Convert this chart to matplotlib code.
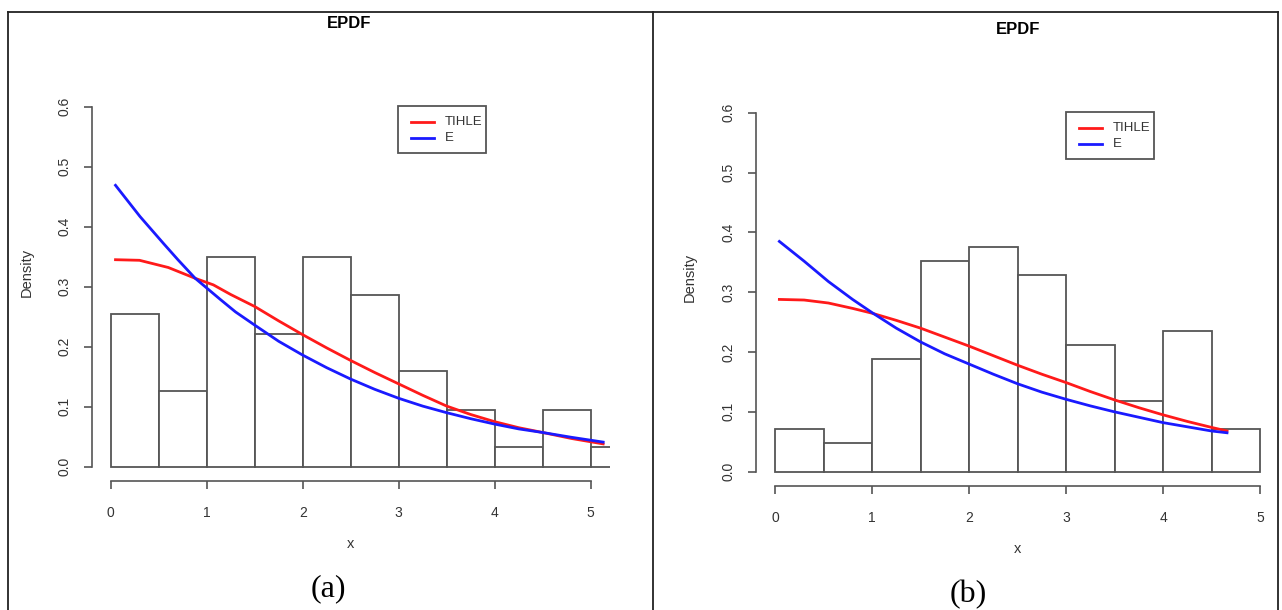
import matplotlib
matplotlib.use("Agg")
import matplotlib.pyplot as plt
from matplotlib.lines import Line2D
from matplotlib.patches import Rectangle

# ---------------- data ----------------
bin_edges = [0, 0.5, 1.0, 1.5, 2.0, 2.5, 3.0, 3.5, 4.0, 4.5, 5.0, 5.5]
dens_a = [0.254, 0.127, 0.349, 0.222, 0.349, 0.286, 0.159, 0.095, 0.032, 0.095, 0.032]

bin_edges_b = [0, 0.5, 1.0, 1.5, 2.0, 2.5, 3.0, 3.5, 4.0, 4.5, 5.0]
dens_b = [0.0706, 0.0471, 0.188, 0.353, 0.376, 0.329, 0.212, 0.118, 0.235, 0.0706]

tihle_x_a = [0.05, 0.3, 0.6, 0.88, 1.07, 1.25, 1.5, 1.75, 2.0, 2.25, 2.5, 2.75, 3.0,
             3.25, 3.5, 3.75, 4.0, 4.25, 4.5, 4.8, 5.13]
tihle_y_a = [0.345, 0.344, 0.332, 0.314, 0.303, 0.287, 0.267, 0.243, 0.220, 0.198, 0.177,
             0.157, 0.138, 0.119, 0.101, 0.087, 0.075, 0.065, 0.057, 0.047, 0.038]
e_x_a = [0.05, 0.305, 0.55, 0.7, 0.88, 1.14, 1.3, 1.5, 1.75, 2.0, 2.25, 2.5, 2.75, 3.0,
         3.25, 3.5, 3.75, 4.0, 4.25, 4.5, 4.8, 5.13]
e_y_a = [0.469, 0.417, 0.372, 0.345, 0.314, 0.279, 0.258, 0.236, 0.209, 0.186, 0.165,
         0.146, 0.129, 0.114, 0.101, 0.090, 0.080, 0.071, 0.063, 0.057, 0.049, 0.041]

tihle_x_b = [0.045, 0.3, 0.55, 0.8, 1.0, 1.25, 1.5, 1.75, 2.0, 2.25, 2.5, 2.75, 3.0,
             3.25, 3.5, 3.75, 4.0, 4.25, 4.5, 4.66]
tihle_y_b = [0.288, 0.287, 0.282, 0.273, 0.265, 0.253, 0.240, 0.225, 0.210, 0.194, 0.178,
             0.163, 0.149, 0.134, 0.120, 0.107, 0.095, 0.084, 0.074, 0.068]
e_x_b = [0.045, 0.3, 0.55, 0.8, 1.0, 1.25, 1.5, 1.75, 2.0, 2.25, 2.5, 2.75, 3.0,
         3.25, 3.5, 3.75, 4.0, 4.25, 4.5, 4.66]
e_y_b = [0.385, 0.352, 0.318, 0.288, 0.266, 0.240, 0.217, 0.197, 0.180, 0.163, 0.147,
         0.133, 0.121, 0.110, 0.100, 0.091, 0.082, 0.075, 0.068, 0.065]

xticks = [0, 1, 2, 3, 4, 5]
yticks = [0.0, 0.1, 0.2, 0.3, 0.4, 0.5, 0.6]
ytick_labels = ["0.0", "0.1", "0.2", "0.3", "0.4", "0.5", "0.6"]
legend_labels = ["TIHLE", "E"]
title = "EPDF"
captions = ["(a)", "(b)"]

# ---------------- figure ----------------
W, H = 1282, 610
plt.rcParams['font.family'] = ['Liberation Sans', 'DejaVu Sans']
fig = plt.figure(figsize=(W / 100, H / 100), dpi=100)

def fx(px):
    return px / W

def fy(py):
    return 1 - py / H

def make_axes(l, r, t, b):
    return fig.add_axes([fx(l), fy(b), fx(r) - fx(l), fy(t) - fy(b)])

tick_col = "#333333"
edge_col = "#555555"
red = "#ff1a1a"
blue = "#1a1aff"

def style(ax, box, ylab_px, ylab_py):
    l, r, t, b = box
    ax.set_xlim(-0.2, 5.2)
    ax.set_ylim(-0.024, 0.624)
    for s in ["top", "right"]:
        ax.spines[s].set_visible(False)
    ax.spines["left"].set_bounds(0, 0.6)
    ax.spines["bottom"].set_bounds(0, 5)
    for s in ["left", "bottom"]:
        ax.spines[s].set_color(edge_col)
        ax.spines[s].set_linewidth(1.2)
    ax.set_xticks(xticks)
    ax.set_yticks(yticks)
    ax.set_yticklabels(ytick_labels, rotation=90, va="center")
    ax.tick_params(axis="both", direction="out", length=6, width=1.2,
                   color=edge_col, labelsize=10, labelcolor=tick_col)
    ax.tick_params(axis="x", pad=12)
    ax.tick_params(axis="y", pad=8.5)
    ax.set_ylabel("Density", fontsize=10.5, color=tick_col)
    ax.yaxis.set_label_coords((ylab_px - l) / (r - l), (b - ylab_py) / (b - t))
    ax.set_xlabel("x", fontsize=10.5, color=tick_col, labelpad=12)
    ax.patch.set_visible(False)

def draw_legend(lx, ly):
    w, h = 88, 47
    fig.add_artist(Rectangle((fx(lx), fy(ly + h)), w / W, h / H, transform=fig.transFigure,
                             facecolor="white", edgecolor=edge_col, lw=1.3))
    for i, (lab, col) in enumerate(zip(legend_labels, [red, blue])):
        yy = ly + 16 + i * 15.6
        fig.add_artist(Line2D([fx(lx + 12.5), fx(lx + 36)], [fy(yy), fy(yy)],
                              color=col, lw=2, transform=fig.transFigure))
        fig.text(fx(lx + 46.5), fy(yy), lab, ha="left", va="center",
                 fontsize=9.5, color=tick_col)

# panel (a)
box_a = (91.5, 609.9, 92.3, 481.1)
ax1 = make_axes(*box_a)
ax1.hist(bin_edges[:-1], bins=bin_edges, weights=dens_a, histtype="bar",
         facecolor="white", edgecolor=edge_col, linewidth=1.3)
ax1.plot(tihle_x_a, tihle_y_a, color=red, lw=2, label=legend_labels[0])
ax1.plot(e_x_a, e_y_a, color=blue, lw=2, label=legend_labels[1])
style(ax1, box_a, 34, 272)

# panel (b)
box_b = (755.6, 1279.4, 98.5, 486.0)
ax2 = make_axes(*box_b)
ax2.hist(bin_edges_b[:-1], bins=bin_edges_b, weights=dens_b, histtype="bar",
         facecolor="white", edgecolor=edge_col, linewidth=1.3)
ax2.plot(tihle_x_b, tihle_y_b, color=red, lw=2, label=legend_labels[0])
ax2.plot(e_x_b, e_y_b, color=blue, lw=2, label=legend_labels[1])
style(ax2, box_b, 697, 277)

# titles
for (tx, ty) in [(349, 24), (1018, 30)]:
    fig.text(fx(tx), fy(ty), title, ha="center", va="center",
             fontsize=12, fontweight="bold")

# legends
draw_legend(398, 106)
draw_legend(1066, 112)

# captions
fig.text(fx(328), fy(589), captions[0], ha="center", va="center",
         fontsize=23, family=["Liberation Serif", "DejaVu Serif"])
fig.text(fx(968), fy(595), captions[1], ha="center", va="center",
         fontsize=23, family=["Liberation Serif", "DejaVu Serif"])

# frame lines
for (x0, y0, x1, y1) in [(8, 12, 1278, 12), (8, 12, 8, 610), (653, 12, 653, 610),
                         (1278, 12, 1278, 610)]:
    fig.add_artist(Line2D([fx(x0), fx(x1)], [fy(y0), fy(y1)], color="#222222", lw=1.3,
                          transform=fig.transFigure))

fig.savefig("out.png", dpi=100)
